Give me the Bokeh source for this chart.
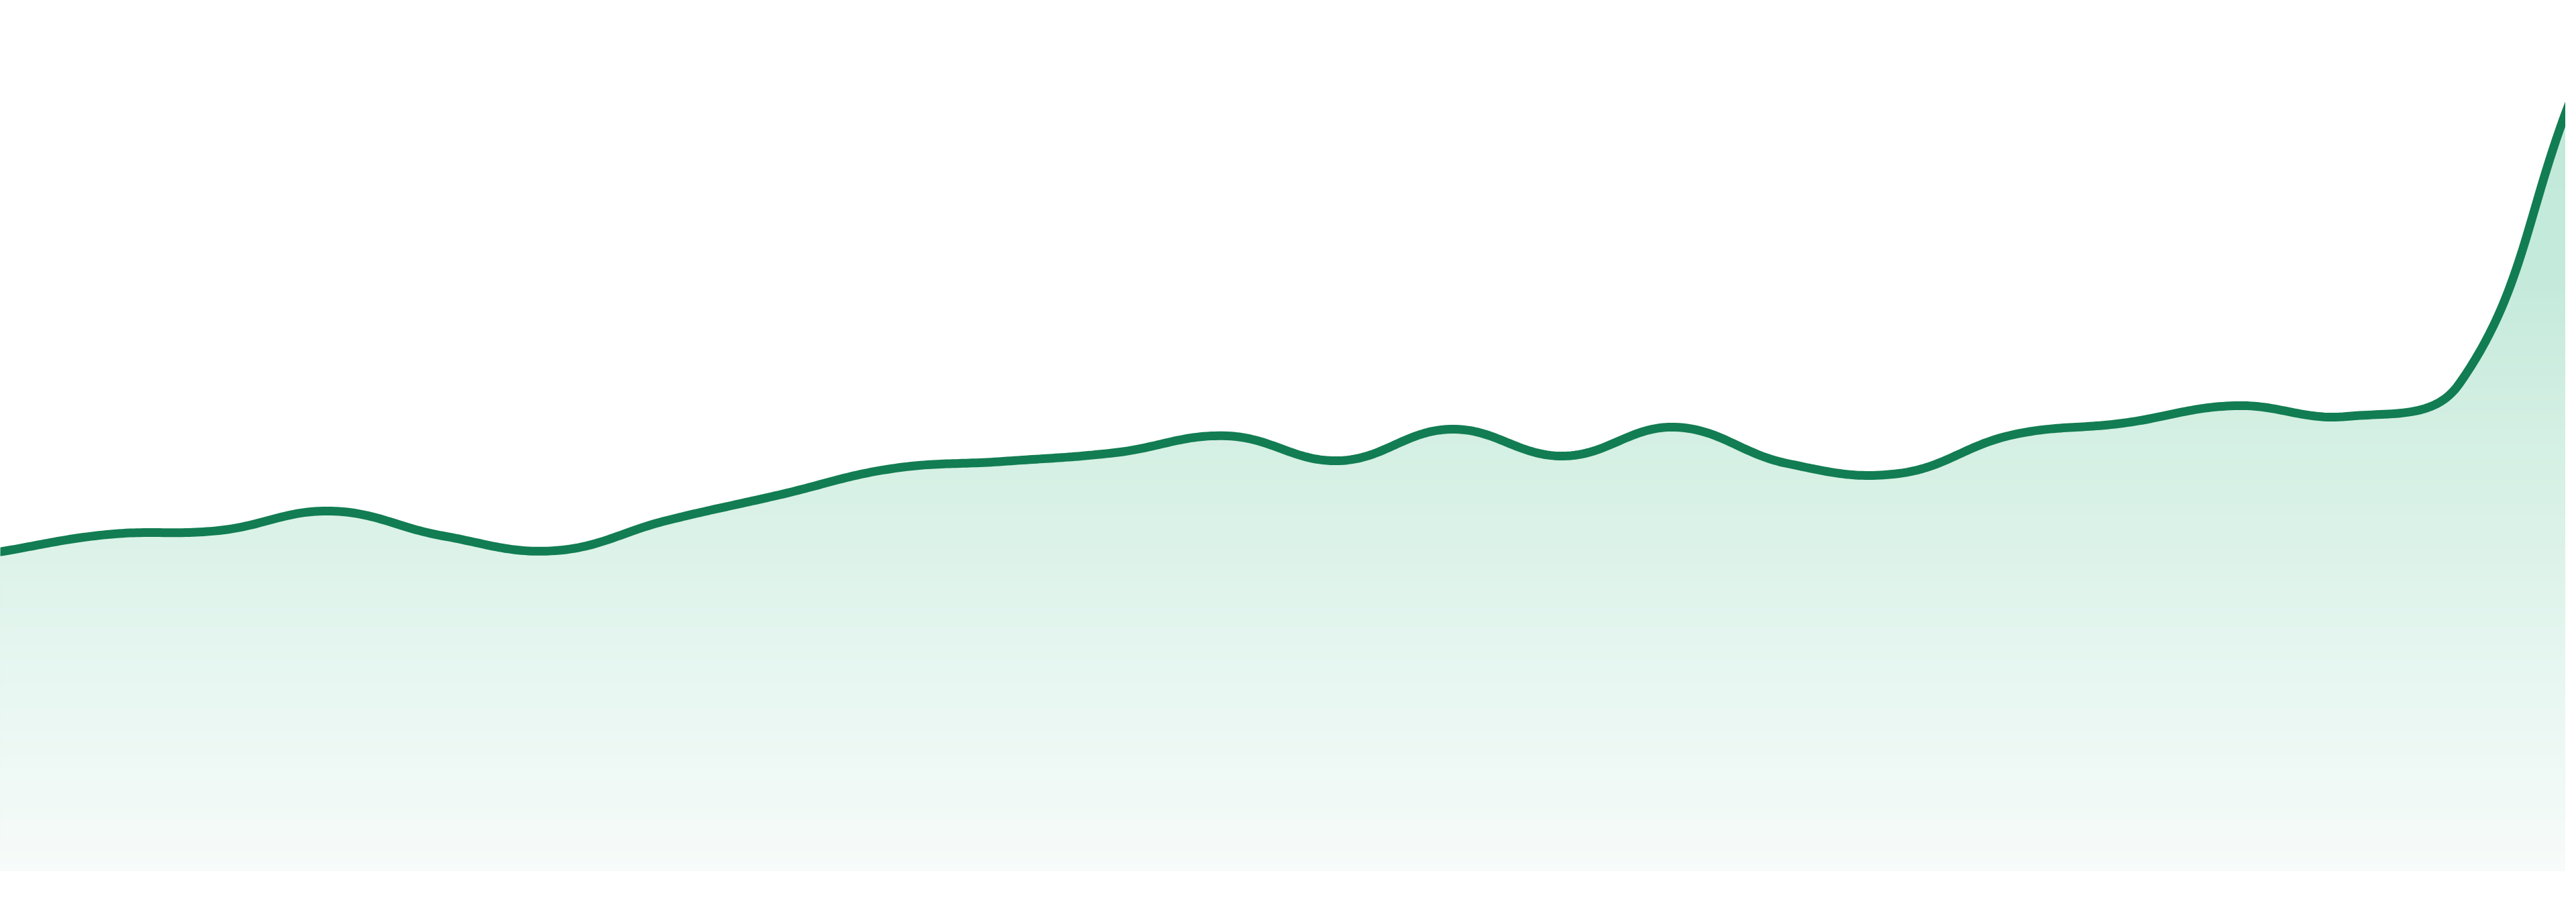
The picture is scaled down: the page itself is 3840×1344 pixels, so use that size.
import numpy as np
from bokeh.plotting import figure
from bokeh.models import Range1d
from bokeh.embed import file_html
from bokeh.resources import INLINE

# one value per period (arbitrary units)
periods = list(range(24))
values = [47.4, 50.1, 50.7, 53.6, 49.9, 47.7, 52.2, 56.0, 59.9, 61.0,
          62.3, 64.8, 61.1, 65.8, 61.8, 66.1, 60.7, 59.2, 64.9, 66.7,
          69.3, 67.7, 72.5, 115.0]

W, H = 3824, 1328
STEP_PX = 3840 / 23          # the reference spreads the 24 points over the full 3840 px
X_START = 8 / STEP_PX        # page margin is 8 px, so start the frame a little in
X_END = X_START + W / STEP_PX
Y_START, Y_END = -3.1, 129.7

LINE_COLOR = "#127d52"
# vertical gradient under the curve: (value level, rgb)
GRAD_LEVELS = [0.0, 30.5, 55.5, 65.5, 88.5, 115.0]
GRAD_RGB = [(247, 251, 249), (230, 246, 240), (216, 241, 230),
            (212, 239, 227), (196, 234, 219), (193, 233, 218)]


def spline(xs, ys, tension=0.4, steps=32):
    # same control points as a chart.js line with tension, worked out in screen pixels
    kx = W / (X_END - X_START)
    ky = H / (Y_END - Y_START)
    P = np.column_stack([np.asarray(xs, float) * kx, np.asarray(ys, float) * ky])
    n = len(P)
    cp_prev = np.empty_like(P)
    cp_next = np.empty_like(P)
    for i in range(n):
        prev = P[max(i - 1, 0)]
        cur = P[i]
        nxt = P[min(i + 1, n - 1)]
        d01 = np.hypot(*(cur - prev))
        d12 = np.hypot(*(nxt - cur))
        tot = d01 + d12
        s01 = d01 / tot if tot else 0.0
        s12 = d12 / tot if tot else 0.0
        cp_prev[i] = cur - tension * s01 * (nxt - prev)
        cp_next[i] = cur + tension * s12 * (nxt - prev)
    t = np.linspace(0, 1, steps, endpoint=False)[:, None]
    pts = []
    for i in range(n - 1):
        a, b, c, d = P[i], cp_next[i], cp_prev[i + 1], P[i + 1]
        pts.append((1 - t) ** 3 * a + 3 * (1 - t) ** 2 * t * b + 3 * (1 - t) * t ** 2 * c + t ** 3 * d)
    pts.append(P[-1][None, :])
    pts = np.vstack(pts)
    return pts[:, 0] / kx, pts[:, 1] / ky


def grad_color(level):
    rgb = [int(round(np.interp(level, GRAD_LEVELS, [c[j] for c in GRAD_RGB]))) for j in range(3)]
    return "#%02x%02x%02x" % tuple(rgb)


sx, sy = spline(periods, values)

p = figure(
    width=W,
    height=H,
    x_range=Range1d(X_START, X_END),
    y_range=Range1d(Y_START, Y_END),
    output_backend="svg",
    toolbar_location=None,
    min_border=0,
)
p.axis.visible = False
p.grid.visible = False
p.outline_line_color = None
p.background_fill_color = "white"
p.border_fill_color = "white"

# gradient fill: stacked areas, highest first, each clipped at a lower level
bands = 120
top = float(sy.max())
for k in range(bands):
    hi = top * (1 - k / bands)
    mid = top * (1 - (k + 0.5) / bands)
    p.varea(x=sx, y1=0, y2=np.minimum(sy, hi), fill_color=grad_color(mid))

p.line(sx, sy, line_width=13, color=LINE_COLOR, line_join="round", line_cap="round")

open("out.html", "w").write(file_html(p, INLINE))
